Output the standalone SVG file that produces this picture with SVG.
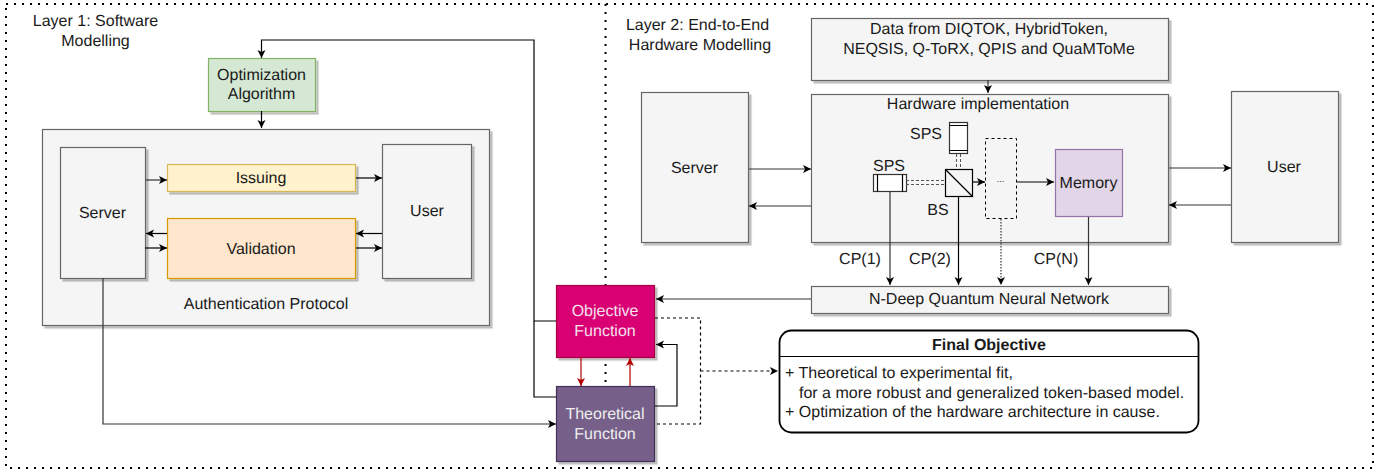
<svg xmlns="http://www.w3.org/2000/svg" width="1391" height="474" viewBox="0 0 1391 474">
<defs>
<style>
text{font-family:"Liberation Sans",Arial,sans-serif;font-size:16px;fill:#1a1a1a;text-anchor:middle;text-rendering:geometricPrecision}
.s{filter:url(#sh)}
.g{fill:#f5f5f5;stroke:#666;stroke-width:1.2}
.c{fill:none;stroke:#000;stroke-width:1.2;marker-end:url(#a)}
.cg{fill:none;stroke:#333;stroke-width:1.2;marker-end:url(#a)}
.n{fill:none;stroke:#000;stroke-width:1.2}
.d{fill:none;stroke:#000;stroke-width:1.2;stroke-dasharray:3 3}
.r{fill:none;stroke:#b20000;stroke-width:1.2;marker-end:url(#ar)}
.o{fill:none;stroke:#000;stroke-width:2;stroke-dasharray:2 6}
.w{fill:#fff;stroke:#333;stroke-width:1.2}
.l{text-anchor:start}
</style>
<filter id="sh" x="-10%" y="-10%" width="125%" height="125%"><feDropShadow dx="2.5" dy="2.5" stdDeviation="0.6" flood-color="#000" flood-opacity="0.25"/></filter>
<marker id="a" markerUnits="userSpaceOnUse" markerWidth="10" markerHeight="10" refX="8" refY="4" orient="auto"><path d="M0 0L8 4L0 8L2 4Z" fill="#000"/></marker>
<marker id="ar" markerUnits="userSpaceOnUse" markerWidth="10" markerHeight="10" refX="8" refY="4" orient="auto"><path d="M0 0L8 4L0 8L2 4Z" fill="#b20000"/></marker>
</defs>
<g id="frame">
<rect class="o" x="6" y="4" width="1367" height="464"/>
<path class="o" d="M605.500 4V468"/>
<text x="95.500" y="26">Layer 1: Software</text><text x="95.500" y="46">Modelling</text>
<text x="697.500" y="30">Layer 2: End-to-End</text><text x="700" y="50">Hardware Modelling</text>
</g>
<g id="auth"><rect class="g s" x="42.500" y="129.500" width="447" height="196"/><text x="266" y="309">Authentication Protocol</text></g>
<g id="opt"><rect class="s" x="208.500" y="58.500" width="107" height="53" fill="#d5e8d4" stroke="#82b366" stroke-width="1.200"/><text x="261.500" y="80">Optimization</text><text x="261.500" y="99">Algorithm</text></g>
<g id="server1"><rect class="g s" x="60.500" y="147.500" width="85" height="131"/><text x="102.500" y="218">Server</text></g>
<g id="user1"><rect class="g s" x="382.500" y="144.500" width="89" height="134"/><text x="427" y="216">User</text></g>
<g id="issuing"><rect class="s" x="167.500" y="164.500" width="188" height="27" fill="#fff2cc" stroke="#d6b656" stroke-width="1.200"/><text x="261" y="183">Issuing</text></g>
<g id="validation"><rect class="s" x="167.500" y="218.500" width="188" height="60" fill="#ffe6cc" stroke="#d79b00" stroke-width="1.200"/><text x="261" y="254">Validation</text></g>
<g id="data"><rect class="g s" x="811.500" y="18.500" width="357" height="62"/><text x="989" y="34">Data from DIQTOK, HybridToken,</text><text x="989" y="54">NEQSIS, Q-ToRX, QPIS and QuaMToMe</text></g>
<g id="server2"><rect class="g s" x="641.500" y="92.500" width="107" height="150"/><text x="694.500" y="173">Server</text></g>
<g id="hardware"><rect class="g s" x="811.500" y="94.500" width="357" height="148"/><text x="978" y="109">Hardware implementation</text></g>
<g id="user2"><rect class="g s" x="1231.500" y="91.500" width="107" height="151"/><text x="1284" y="172">User</text></g>
<g id="nn"><rect class="g s" x="811.500" y="286.500" width="357" height="27"/><text x="989" y="304">N-Deep Quantum Neural Network</text></g>
<g id="memory"><rect x="1055.500" y="149.500" width="67" height="67" fill="#e1d5e7" stroke="#9673a6" stroke-width="1.200"/><text x="1088.500" y="188">Memory</text></g>
<g id="sps-top"><rect class="w" x="949.500" y="122.500" width="18" height="31"/><path class="n" stroke="#333" d="M949.500 125.500H967.500M949.500 150.500H967.500"/><text x="926" y="139">SPS</text></g>
<g id="sps-left"><rect class="w" x="873.500" y="174.500" width="33" height="17"/><path class="n" stroke="#333" d="M877.500 174.500V191.500M902.500 174.500V191.500"/><text x="889" y="171">SPS</text></g>
<g id="bs"><rect x="945.500" y="169.500" width="27" height="27" fill="#f5f5f5" stroke="#000" stroke-width="1.200"/><path class="n" d="M945.500 169.500L972.500 196.500"/><text x="938" y="215">BS</text></g>
<g id="dots"><rect x="985.500" y="138.500" width="31" height="80" fill="none" stroke="#000" stroke-width="1" stroke-dasharray="3 3"/><text x="1000.500" y="182" style="font-size:9px">...</text></g>
<g id="objective"><rect class="s" x="556.500" y="285.500" width="98" height="72" fill="#d80073" stroke="#a50040" stroke-width="1.200"/><text x="605" y="316" style="fill:#f5e0ee">Objective</text><text x="605" y="336" style="fill:#f5e0ee">Function</text></g>
<g id="theoretical"><rect class="s" x="556.500" y="386.500" width="98" height="75" fill="#76608a" stroke="#432d57" stroke-width="1.200"/><text x="605" y="419" style="fill:#eee">Theoretical</text><text x="605" y="439" style="fill:#eee">Function</text></g>
<g id="final"><rect x="779.500" y="330.500" width="419" height="102" rx="12" fill="#fff" stroke="#000" stroke-width="1.800"/><path class="n" stroke-width="1.500" d="M779.500 356.500H1198.500"/>
<text x="989" y="350" style="font-weight:bold">Final Objective</text>
<text class="l" x="785" y="377.500">+ Theoretical to experimental fit,</text><text class="l" x="799" y="397.500">for a more robust and generalized token-based model.</text><text class="l" x="785" y="417">+ Optimization of the hardware architecture in cause.</text></g>
<g id="connectors">
<path class="c" d="M556 321H534V40H261.500V58"/><path class="n" d="M534 321V397H556"/>
<path class="c" d="M261.500 111V128"/>
<path class="cg" d="M146 180H167"/><path class="c" d="M356 178H382"/><path class="c" d="M167 233.500H146"/><path class="c" d="M145 248H167"/><path class="c" d="M382 233.500H356"/><path class="c" d="M356 248H382"/>
<path class="cg" d="M103 278V424H556"/>
<path class="r" d="M581 357V386"/><path class="r" d="M630 386V358"/>
<path class="c" d="M655 406H677V344.500H656"/>
<path class="d" d="M655 318H700.500V424H655"/><path class="d" d="M700.500 371H778" marker-end="url(#a)"/>
<path class="cg" d="M811 299H656"/>
<path class="cg" d="M988 80V93"/>
<path class="cg" d="M749 169H811"/><path class="cg" d="M811 206H749"/><path class="cg" d="M1169 168H1231"/><path class="cg" d="M1231 205H1169"/>
<path class="c" d="M972 182H985"/><path class="c" d="M1017 182H1054"/>
<path class="cg" d="M890 192V285"/><path class="c" d="M958.500 197V285"/><path class="cg" d="M1001 219V285" stroke-dasharray="1.500 1.500"/><path class="cg" d="M1088.500 217V285"/>
<path fill="none" stroke="#555" stroke-dasharray="3 2" d="M906 180.500H945M906 184.500H945M956.500 154V169M960.500 154V169"/>
</g>
<g id="cp"><text x="860" y="264">CP(1)</text><text x="930" y="264">CP(2)</text><text x="1056" y="264">CP(N)</text></g>
</svg>
